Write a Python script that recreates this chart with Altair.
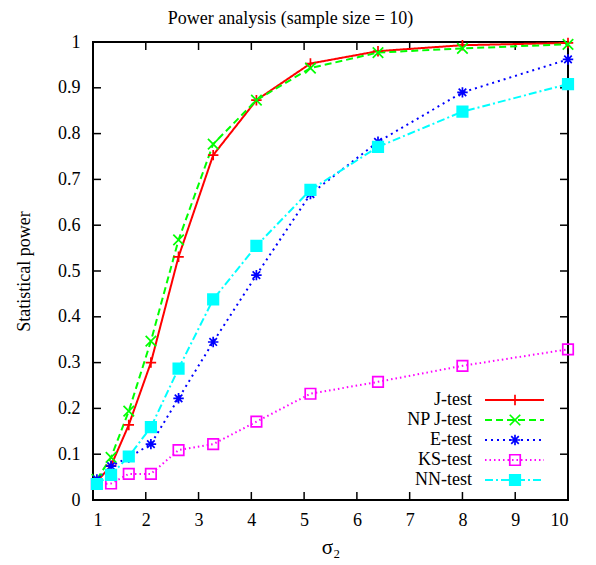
import altair as alt
import pandas as pd

# ---- data ----
x_vals = [1.074, 1.342, 1.678, 2.097, 2.621, 3.277, 4.096, 5.12, 6.4, 8.0, 10.0]
j_test = [0.040, 0.075, 0.164, 0.300, 0.531, 0.753, 0.873, 0.953, 0.980, 0.993, 0.998]
np_j_test = [0.045, 0.093, 0.194, 0.347, 0.568, 0.777, 0.873, 0.943, 0.977, 0.986, 0.995]
e_test = [0.045, 0.074, 0.093, 0.122, 0.222, 0.345, 0.491, 0.668, 0.782, 0.890, 0.962]
ks_test = [0.035, 0.036, 0.057, 0.057, 0.109, 0.122, 0.171, 0.232, 0.258, 0.293, 0.329]
nn_test = [0.035, 0.055, 0.095, 0.159, 0.287, 0.438, 0.555, 0.677, 0.771, 0.848, 0.908]

series_names = ["J-test", "NP J-test", "E-test", "KS-test", "NN-test"]
series_values = [j_test, np_j_test, e_test, ks_test, nn_test]
colors = ["#ff0000", "#00ff00", "#0000ff", "#ff00ff", "#00ffff"]
dashes = [[1, 0], [7, 4], [2, 4], [1.5, 3], [8, 3, 2, 3]]
shapes = [
    "M-1,0L1,0M0,-1L0,1",
    "M-1,-1L1,1M-1,1L1,-1",
    "M-1,0L1,0M0,-1L0,1M-0.72,-0.72L0.72,0.72M-0.72,0.72L0.72,-0.72",
    "square",
    "square",
]
fills = ["transparent", "transparent", "transparent", "transparent", "#00ffff"]

x_ticks = [1, 2, 3, 4, 5, 6, 7, 8, 9, 10]
y_ticks = [0, 0.1, 0.2, 0.3, 0.4, 0.5, 0.6, 0.7, 0.8, 0.9, 1]

title_text = "Power analysis (sample size = 10)"
x_title = "σ₂"
y_title = "Statistical power"

W, H = 475, 458
FONT = "Liberation Serif"
FS = 18

rows = []
for name, vals in zip(series_names, series_values):
    for xv, yv in zip(x_vals, vals):
        rows.append({"series": name, "x": xv, "y": yv})
df = pd.DataFrame(rows)
legend_df = pd.DataFrame({"series": series_names})
xt_df = pd.DataFrame({"x": x_ticks})
yt_df = pd.DataFrame({"y": y_ticks})

x_enc = alt.X(
    "x:Q",
    scale=alt.Scale(domain=[1, 10], nice=False, zero=False),
    axis=alt.Axis(values=x_ticks, title=x_title, tickSize=0, ticks=False, domain=False,
                  grid=False, labelFont=FONT, labelFontSize=FS, labelColor="black",
                  labelPadding=11, titleFont=FONT, titleFontSize=21, titleFontWeight="normal",
                  titleColor="black", titlePadding=7),
)
y_enc = alt.Y(
    "y:Q",
    scale=alt.Scale(domain=[0, 1], nice=False),
    axis=alt.Axis(values=y_ticks, format=".1~f", title=y_title, tickSize=0, ticks=False,
                  domain=False, grid=False, labelFont=FONT, labelFontSize=FS, labelColor="black",
                  labelPadding=13, titleFont=FONT, titleFontSize=FS, titleFontWeight="normal",
                  titleColor="black", titlePadding=24),
)

color_enc = alt.Color("series:N", scale=alt.Scale(domain=series_names, range=colors), legend=None)
dash_enc = alt.StrokeDash("series:N", scale=alt.Scale(domain=series_names, range=dashes), legend=None)
shape_enc = alt.Shape("series:N", scale=alt.Scale(domain=series_names, range=shapes), legend=None)
fill_enc = alt.Fill("series:N", scale=alt.Scale(domain=series_names, range=fills), legend=None)

lines = alt.Chart(df).mark_line(strokeWidth=2, clip=False).encode(
    x=x_enc, y=y_enc, color=color_enc, strokeDash=dash_enc, detail="series:N"
)
points = alt.Chart(df).mark_point(strokeWidth=1.7, size=110, opacity=1, clip=False).encode(
    x=x_enc, y=y_enc, color=color_enc, shape=shape_enc, fill=fill_enc
)

tick_len = 8
yticks_left = alt.Chart(yt_df).mark_rule(color="black", strokeWidth=1.5).encode(
    y=y_enc, x=alt.value(0), x2=alt.value(tick_len))
yticks_right = alt.Chart(yt_df).mark_rule(color="black", strokeWidth=1.5).encode(
    y=y_enc, x=alt.value(W - tick_len), x2=alt.value(W))
xticks_bottom = alt.Chart(xt_df).mark_rule(color="black", strokeWidth=1.5).encode(
    x=x_enc, y=alt.value(H - tick_len), y2=alt.value(H))
xticks_top = alt.Chart(xt_df).mark_rule(color="black", strokeWidth=1.5).encode(
    x=x_enc, y=alt.value(0), y2=alt.value(tick_len))

main = alt.layer(yticks_left, yticks_right, xticks_bottom, xticks_top, lines, points)

leg_y = alt.Y("series:N", scale=alt.Scale(type="point", domain=series_names,
                                           range=[358, 438], padding=0), axis=None)
leg_text = alt.Chart(legend_df).mark_text(align="right", baseline="middle", font=FONT,
                                          fontSize=FS, color="black").encode(
    x=alt.value(379), y=leg_y, text="series:N")
leg_line = alt.Chart(legend_df).mark_rule(strokeWidth=2).encode(
    x=alt.value(392), x2=alt.value(451), y=leg_y, color=color_enc, strokeDash=dash_enc)
leg_pts = alt.Chart(legend_df).mark_point(strokeWidth=1.7, size=110, opacity=1).encode(
    x=alt.value(422), y=leg_y, color=color_enc, shape=shape_enc, fill=fill_enc)
legend = alt.layer(leg_line, leg_pts, leg_text)

chart = alt.layer(main, legend).resolve_scale(y="independent").properties(
    width=W,
    height=H,
    title=alt.Title(title_text, font=FONT, fontSize=FS, fontWeight="normal", color="black",
                    offset=5, dx=-40),
    autosize=alt.AutoSizeParams(type="none"),
    padding={"left": 85, "top": 34, "right": 20, "bottom": 64},
).configure_view(stroke="black", strokeWidth=2)

chart.save("out.html", embed_options={"renderer": "svg", "actions": False})
